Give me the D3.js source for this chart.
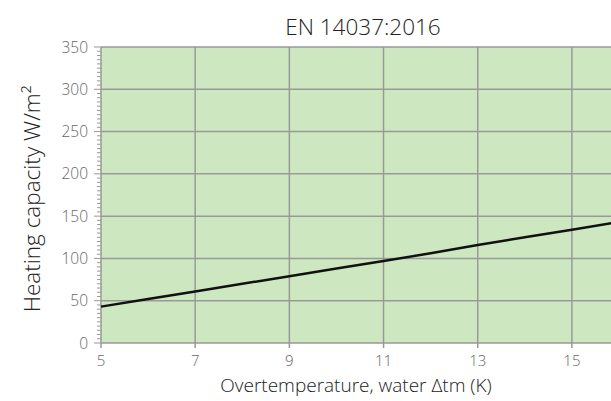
<!doctype html>
<html>
<head>
  <script src="https://d3js.org/d3.v7.min.js"></script>
  <style>
    body { margin: 0; background: #fff; }
    text { font-family: "Open Sans", "Noto Sans", sans-serif; }
  </style>
</head>
<body>
  <script>

    // data
    var overTemp = [5, 6, 7, 8, 9, 10, 11, 12, 13, 14, 15, 16];
    var capacity = [43, 52, 61, 70, 79, 88, 97, 106, 116, 125, 134, 143];
    var xTicks = [5, 7, 9, 11, 13, 15];
    var yTicks = [0, 50, 100, 150, 200, 250, 300, 350];

    var width = 611, height = 401;

    var svg = d3.select("body")
      .append("svg")
      .attr("width", width)
      .attr("height", height);

    var x = d3.scaleLinear().domain([5, 16]).range([101, 619]);
    var y = d3.scaleLinear().domain([0, 350]).range([343, 47]);

    // plot background
    svg.append("rect")
      .attr("x", x(5))
      .attr("y", y(350))
      .attr("width", width - x(5))
      .attr("height", y(0) - y(350))
      .attr("fill", "#cde8c1");

    // grid
    svg.append("g").selectAll("line")
      .data(yTicks.slice(1))
      .enter().append("line")
      .attr("x1", x(5)).attr("x2", width)
      .attr("y1", function (d) { return y(d); })
      .attr("y2", function (d) { return y(d); })
      .attr("stroke", "#999").attr("stroke-width", 1.5);

    svg.append("g").selectAll("line")
      .data(xTicks.slice(1))
      .enter().append("line")
      .attr("x1", function (d) { return x(d); })
      .attr("x2", function (d) { return x(d); })
      .attr("y1", y(350)).attr("y2", y(0) + 5)
      .attr("stroke", "#999").attr("stroke-width", 1.5);

    // x axis line
    svg.append("line")
      .attr("x1", x(5)).attr("x2", width)
      .attr("y1", y(0)).attr("y2", y(0))
      .attr("stroke", "#999").attr("stroke-width", 1.5);

    // y axis with minor ticks
    var yMinor = d3.range(0, 351, 5);
    svg.append("g").selectAll("line")
      .data(yMinor)
      .enter().append("line")
      .attr("x1", function (d) { return d % 50 === 0 ? x(5) - 7 : x(5) - 4; })
      .attr("x2", x(5))
      .attr("y1", function (d) { return y(d); })
      .attr("y2", function (d) { return y(d); })
      .attr("stroke", "#999").attr("stroke-width", 1);

    svg.append("line")
      .attr("x1", x(5)).attr("x2", x(5))
      .attr("y1", y(350)).attr("y2", y(0) + 5)
      .attr("stroke", "#999").attr("stroke-width", 1.5);

    // tick labels
    svg.append("g").selectAll("text")
      .data(yTicks)
      .enter().append("text")
      .attr("x", x(5) - 13)
      .attr("y", function (d) { return y(d) + 5.5; })
      .attr("text-anchor", "end")
      .attr("font-size", 15.5)
      .attr("font-weight", 300)
      .attr("fill", "#666")
      .text(function (d) { return d; });

    svg.append("g").selectAll("text")
      .data(xTicks)
      .enter().append("text")
      .attr("x", function (d) { return x(d); })
      .attr("y", 366)
      .attr("text-anchor", "middle")
      .attr("font-size", 15)
      .attr("font-weight", 300)
      .attr("fill", "#666")
      .text(function (d) { return d; });

    // curve
    var line = d3.line()
      .x(function (d, i) { return x(overTemp[i]); })
      .y(function (d) { return y(d); });

    svg.append("path")
      .datum(capacity)
      .attr("d", line)
      .attr("fill", "none")
      .attr("stroke", "#111")
      .attr("stroke-width", 2.5);

    // titles
    svg.append("text")
      .attr("x", 363).attr("y", 35)
      .attr("text-anchor", "middle")
      .attr("font-size", 22.5)
      .attr("font-weight", 300)
      .attr("fill", "#222")
      .text("EN 14037:2016");

    svg.append("text")
      .attr("x", 356).attr("y", 392)
      .attr("text-anchor", "middle")
      .attr("font-size", 19)
      .attr("font-weight", 300)
      .attr("fill", "#222")
      .text("Overtemperature, water \u0394tm (K)");

    svg.append("text")
      .attr("transform", "translate(40,199) rotate(-90)")
      .attr("text-anchor", "middle")
      .attr("font-size", 22.5)
      .attr("font-weight", 300)
      .attr("fill", "#222")
      .text("Heating capacity W/m\u00b2");

  </script>
</body>
</html>
